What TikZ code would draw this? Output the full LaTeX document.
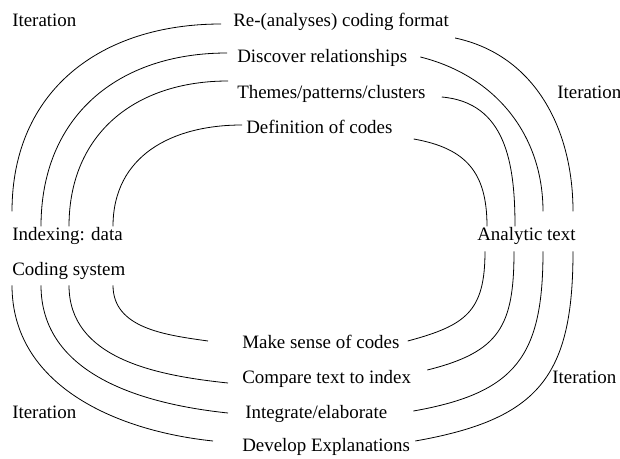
\documentclass[tikz,border=0pt]{standalone}
\usepackage{fontspec}
\setmainfont{Liberation Serif}
\usetikzlibrary{calc}

\tikzset{
  lbl/.style={anchor=base west, inner sep=0pt, text height=10pt, text depth=3pt,
    font=\fontsize{14.2}{16}\selectfont},
  loop/.style={line width=0.6pt}
}

\begin{document}
\begin{tikzpicture}[x=0.75pt,y=0.75pt]
	\useasboundingbox (0,0) rectangle (620,458);

	% labels
	\node[lbl] (it1) at (12,431) {Iteration};
	\node[lbl] (reana) at (233,431) {Re-(analyses) coding format};
	\node[lbl] (disc) at (237,395) {Discover relationships};
	\node[lbl] (them) at (237,360) {Themes/patterns/clusters};
	\node[lbl] (defn) at (246,325) {Definition of codes};
	\node[lbl] (it2) at (557,360) {Iteration};

	\node[lbl] (idx) at (12,218) {Indexing: data};
	\node[lbl] (cod) at (12,183) {Coding system};
	\node[lbl] (anl) at (477,218) {Analytic text};

	\node[lbl] (make) at (242,110) {Make sense of codes};
	\node[lbl] (comp) at (242,75) {Compare text to index};
	\node[lbl] (it3) at (12,40) {Iteration};
	\node[lbl] (integ) at (245,40) {Integrate/elaborate};
	\node[lbl] (dev) at (242,7) {Develop Explanations};
	\node[lbl] (it4) at (552,75) {Iteration};

	% upper left
	\draw[loop, looseness=1.1] ($(idx.north west)+(0,15)$) to[out=90,in=180] ($(reana.base west)+(-12,3)$);
	\draw[loop, looseness=1.1] ($(idx.north west)+(29,0)$) to[out=90,in=180] ($(disc.base west)+(-10,10)$);
	\draw[loop, looseness=1.1] ($(idx.north west)+(57,0)$) to[out=90,in=180] ($(them.base west)+(-9,17)$);
	\draw[loop, looseness=1.1] ($(idx.north west)+(101,0)$) to[out=90,in=180] ($(defn.base west)+(-4,8)$);

	% upper right
	\draw[loop] ($(reana.base east)+(6,-11)$) to[out=-12,in=90] ($(anl.north west)+(96,15)$);
	\draw[loop] ($(disc.base east)+(13,6)$) to[out=-14,in=90] ($(anl.north west)+(66,15)$);
	\draw[loop, looseness=1.1] ($(them.base east)+(16,1)$) to[out=-5,in=90] ($(anl.north west)+(38,0)$);
	\draw[loop, looseness=1.2] ($(defn.base east)+(21,-6)$) to[out=-10,in=90] ($(anl.north west)+(10,0)$);

	% lower left
	\draw[loop] ($(cod.south west)+(0,-6)$) to[out=-90,in=174] ($(dev.base west)+(-29,10)$);
	\draw[loop] ($(cod.south west)+(29,-6)$) to[out=-90,in=174] ($(integ.base west)+(-17,5)$);
	\draw[loop] ($(cod.south west)+(57,-6)$) to[out=-90,in=174] ($(comp.base west)+(-14,0)$);
	\draw[loop] ($(cod.south west)+(101,-6)$) to[out=-90,in=172] ($(make.base west)+(-34,7)$);

	% lower right
	\draw[loop, looseness=1.3] ($(anl.south west)+(96,-7)$) to[out=-90,in=10] ($(dev.base east)+(5,10)$);
	\draw[loop, looseness=1.3] ($(anl.south west)+(66,-7)$) to[out=-90,in=10] ($(integ.base east)+(26,7)$);
	\draw[loop, looseness=1.3] ($(anl.south west)+(37,-7)$) to[out=-90,in=14] ($(comp.base east)+(16,13)$);
	\draw[loop, looseness=1.3] ($(anl.south west)+(8,-7)$) to[out=-90,in=15] ($(make.base east)+(8,7)$);
\end{tikzpicture}
\end{document}
